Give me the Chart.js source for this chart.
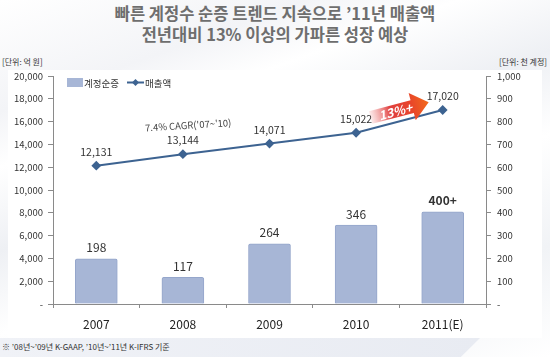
<!DOCTYPE html>
<html><head><meta charset="utf-8">
<script src="https://cdn.jsdelivr.net/npm/chart.js@4"></script>
<style>
html,body{margin:0;padding:0;}
body{width:550px;height:357px;position:relative;overflow:hidden;font-family:'Noto Sans CJK KR','Noto Sans',sans-serif;
background:linear-gradient(160deg,#ffffff 0%,#f3f4f7 20%,#ffffff 30%,#eef0f4 45%,#ffffff 60%,#f1f3f6 80%,#ffffff 100%);}
#panel{position:absolute;left:8px;top:70px;width:534px;height:268px;background:#fff;}
#band{position:absolute;left:0;top:338px;width:480px;height:19px;background:linear-gradient(90deg,#f0f2f7,#e8ebf2);clip-path:polygon(0 0,100% 0,96% 100%,0 100%);}
.t{position:absolute;white-space:nowrap;}
#title{left:0;width:550px;top:3px;text-align:center;font-weight:bold;font-size:16.5px;line-height:21px;color:#6e6e6e;}
#u1{left:2px;top:56px;font-size:8px;color:#333;}
#u2{right:3px;top:56px;font-size:8px;color:#333;}
#note{left:2px;top:341px;font-size:8px;color:#333;}
canvas{position:absolute;left:0;top:0;}
</style></head>
<body>
<div id="panel"></div>
<div id="band"></div>
<div class="t" id="title">빠른 계정수 순증 트렌드 지속으로 ’11년 매출액<br>전년대비 13% 이상의 가파른 성장 예상</div>
<div class="t" id="u1">[단위: 억 원]</div>
<div class="t" id="u2">[단위: 천 계정]</div>
<div class="t" id="note">※ ’08년~’09년 K-GAAP, ’10년~’11년 K-IFRS 기준</div>
<div style="position:absolute;left:0;top:0;width:550px;height:357px;"><canvas id="c" width="550" height="357"></canvas></div>
<script>
const categories = ['2007','2008','2009','2010','2011(E)'];
const accountGrowth = [198, 117, 264, 346, 404];           // 계정순증 (천 계정)
const accountLabels = ['198','117','264','346','400+'];
const revenue = [12131, 13144, 14071, 15022, 17020];      // 매출액 (억 원)
const revenueLabels = ['12,131','13,144','14,071','15,022','17,020'];
const seriesNames = ['계정순증','매출액'];
const cagrText = "7.4% CAGR('07~'10)";
const arrowText = '13%+';

const FONT = "'Noto Sans CJK KR','Noto Sans',sans-serif";
const lineColor = '#3d6391';
const barColor = '#a7b6d6';

const labelsPlugin = {
  id:'labelsPlugin',
  afterDatasetsDraw(chart){
    const ctx = chart.ctx;
    const barMeta = chart.getDatasetMeta(0);
    const lineMeta = chart.getDatasetMeta(1);
    ctx.save();
    ctx.textAlign='center'; ctx.textBaseline='middle';
    ctx.fillStyle='#333';
    barMeta.data.forEach((b,i)=>{
      ctx.font = (i===4?'bold ':'')+'12px '+FONT;
      ctx.fillText(accountLabels[i], b.x, b.y-11);
    });
    ctx.font='10.5px '+FONT;
    lineMeta.data.forEach((p,i)=>{
      ctx.fillText(revenueLabels[i], p.x, p.y-14);
    });
    // CAGR text
    const p1=lineMeta.data[1], p2=lineMeta.data[2];
    ctx.save();
    ctx.translate((p1.x+p2.x)/2-38, p1.y-29);
    ctx.rotate(-3.5*Math.PI/180);
    ctx.font='9.5px '+FONT; ctx.fillStyle='#444';
    ctx.fillText(cagrText,0,0);
    ctx.restore();
    // arrow
    const a=lineMeta.data[3], b=lineMeta.data[4];
    const dx=b.x-a.x, dy=b.y-a.y, len=Math.hypot(dx,dy), ang=Math.atan2(dy,dx);
    ctx.save();
    ctx.translate(a.x, a.y);
    ctx.rotate(ang);
    const sx=len*0.2, ex=len*0.87, off=-11, bh=6.5, hh=14, hl=17;
    const g=ctx.createLinearGradient(sx,0,ex,0);
    g.addColorStop(0,'rgba(236,120,120,0.15)');
    g.addColorStop(0.35,'#e0403f');
    g.addColorStop(0.7,'#e8452a');
    g.addColorStop(1,'#f26a1b');
    ctx.fillStyle=g;
    ctx.beginPath();
    ctx.moveTo(sx, off-bh);
    ctx.lineTo(ex-hl, off-bh);
    ctx.lineTo(ex-hl, off-hh);
    ctx.lineTo(ex, off);
    ctx.lineTo(ex-hl, off+hh);
    ctx.lineTo(ex-hl, off+bh);
    ctx.lineTo(sx, off+bh);
    ctx.closePath();
    ctx.fill();
    ctx.font='italic bold 12.5px '+FONT;
    ctx.fillStyle='#fff';
    ctx.fillText(arrowText, (sx+ex-hl)/2+4, off+0.5);
    ctx.restore();
    // legend
    const la=chart.chartArea;
    const lx=la.left+14, ly=la.top+6;
    ctx.fillStyle=barColor; ctx.fillRect(lx,ly-4,16,9);
    ctx.fillStyle='#333'; ctx.textAlign='left'; ctx.font='9.5px '+FONT;
    ctx.fillText(seriesNames[0], lx+17, ly+1);
    ctx.strokeStyle=lineColor; ctx.lineWidth=2;
    ctx.beginPath(); ctx.moveTo(lx+60,ly+0.5); ctx.lineTo(lx+77,ly+0.5); ctx.stroke();
    ctx.fillStyle=lineColor;
    ctx.beginPath(); ctx.moveTo(lx+68.5,ly-3); ctx.lineTo(lx+72,ly+0.5); ctx.lineTo(lx+68.5,ly+4); ctx.lineTo(lx+65,ly+0.5); ctx.closePath(); ctx.fill();
    ctx.fillStyle='#333';
    ctx.fillText(seriesNames[1], lx+78, ly+1);
    ctx.restore();
  }
};

const fmt = v => v===0 ? '-' : v.toLocaleString('en-US');

new Chart(document.getElementById('c'),{
  data:{
    labels:categories,
    datasets:[
      {type:'bar', label:seriesNames[0], data:accountGrowth, yAxisID:'y2', order:2,
       backgroundColor:barColor, borderColor:'#95a6cb', borderWidth:1, barThickness:42, borderRadius:2, borderSkipped:'bottom'},
      {type:'line', label:seriesNames[1], data:revenue, yAxisID:'y', order:1,
       borderColor:lineColor, backgroundColor:lineColor, borderWidth:2, pointStyle:'rectRot', pointRadius:3.5, tension:0}
    ]
  },
  options:{
    responsive:false, animation:false,
    layout:{padding:{top:76,left:0,right:0,bottom:0}},
    plugins:{legend:{display:false}, tooltip:{enabled:false}},
    scales:{
      x:{offset:true, grid:{offset:true, drawOnChartArea:false, drawTicks:true, tickLength:4, color:'#8a8a8a'},
         border:{display:true,color:'#8a8a8a'},
         ticks:{padding:9, color:'#222', font:{family:FONT,size:12}},
         afterFit(s){s.height=53;}},
      y:{position:'left', min:0, max:20000,
         ticks:{stepSize:2000, padding:5, color:'#333', font:{family:FONT,size:9.5}, callback:fmt},
         grid:{drawOnChartArea:false, tickLength:5, color:'#8a8a8a'},
         border:{display:true,color:'#8a8a8a'},
         afterFit(s){s.width=53;}},
      y2:{position:'right', min:0, max:1000,
         ticks:{stepSize:100, padding:6, color:'#333', font:{family:FONT,size:9.5}, callback:fmt},
         grid:{drawOnChartArea:false, tickLength:5, color:'#8a8a8a'},
         border:{display:true,color:'#8a8a8a'},
         afterFit(s){s.width=64;}}
    }
  },
  plugins:[labelsPlugin]
});
</script>
</body></html>
